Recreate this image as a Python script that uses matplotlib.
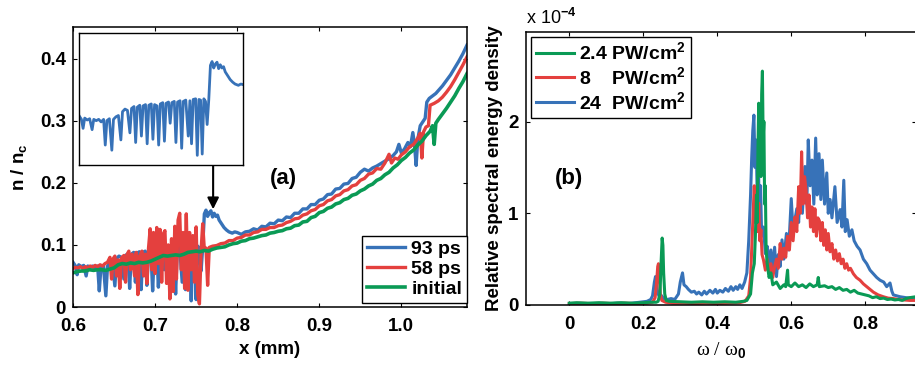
import matplotlib
matplotlib.use('Agg')
import matplotlib.pyplot as plt

plt.rcParams['font.family'] = ['Liberation Sans', 'DejaVu Sans']
plt.rcParams['font.weight'] = 'bold'
plt.rcParams['mathtext.fontset'] = 'custom'
plt.rcParams['mathtext.rm'] = 'Liberation Sans:bold'
plt.rcParams['mathtext.it'] = 'Liberation Sans:bold'
plt.rcParams['mathtext.bf'] = 'Liberation Sans:bold'

BLUE = '#3772b8'
RED = '#e4403e'
GREEN = '#0a9a55'

# ---- panel (a): density profiles ----
x_93 = [0.600, 0.603, 0.605, 0.607, 0.610, 0.613, 0.616, 0.618, 0.621, 0.624, 0.627, 0.630, 0.632, 0.634,
        0.637, 0.640, 0.642, 0.645, 0.648, 0.651, 0.653, 0.656, 0.659, 0.662, 0.664, 0.667, 0.669, 0.671,
        0.674, 0.676, 0.678, 0.681, 0.683, 0.685, 0.688, 0.690, 0.692, 0.695, 0.697, 0.699, 0.702, 0.704,
        0.706, 0.709, 0.711, 0.713, 0.716, 0.718, 0.720, 0.723, 0.725, 0.727, 0.730, 0.733, 0.735, 0.737,
        0.739, 0.742, 0.744, 0.746, 0.748, 0.750, 0.752, 0.754, 0.756, 0.758, 0.760, 0.762, 0.764, 0.766,
        0.768, 0.770, 0.772, 0.774, 0.776, 0.778, 0.781, 0.784, 0.787, 0.790, 0.794, 0.797,
        0.800, 0.805, 0.810, 0.815, 0.820, 0.825, 0.830, 0.835, 0.840, 0.845, 0.850, 0.855, 0.860, 0.865,
        0.870, 0.875, 0.880, 0.885, 0.890, 0.895, 0.900, 0.905, 0.910, 0.915, 0.920, 0.925, 0.930, 0.935,
        0.940, 0.945, 0.950, 0.955, 0.960, 0.965, 0.970, 0.975, 0.980, 0.985, 0.990, 0.994, 0.997, 1.000,
        1.004, 1.008, 1.011, 1.014, 1.016, 1.018, 1.020, 1.023, 1.026, 1.029, 1.031, 1.034, 1.038, 1.042,
        1.046, 1.050, 1.055, 1.060, 1.065, 1.070, 1.075, 1.080]
n_93 = [0.072, 0.066, 0.052, 0.068, 0.065, 0.067, 0.050, 0.066, 0.064, 0.066, 0.062, 0.066, 0.026, 0.064,
        0.067, 0.018, 0.066, 0.070, 0.072, 0.034, 0.078, 0.082, 0.080, 0.045, 0.083, 0.086, 0.030, 0.085,
        0.088, 0.040, 0.087, 0.089, 0.028, 0.088, 0.090, 0.035, 0.089, 0.087, 0.026, 0.090, 0.092, 0.032,
        0.091, 0.093, 0.060, 0.092, 0.094, 0.030, 0.093, 0.095, 0.021, 0.094, 0.096, 0.040, 0.095, 0.028,
        0.097, 0.098, 0.010, 0.097, 0.096, 0.012, 0.098, 0.094, 0.058, 0.097, 0.150, 0.156, 0.146, 0.152,
        0.155, 0.145, 0.151, 0.146, 0.148, 0.140, 0.134, 0.128, 0.124, 0.121, 0.119, 0.121,
        0.120, 0.117, 0.121, 0.122, 0.126, 0.124, 0.130, 0.129, 0.135, 0.134, 0.140, 0.139, 0.145, 0.144,
        0.151, 0.151, 0.158, 0.158, 0.165, 0.165, 0.172, 0.174, 0.181, 0.182, 0.190, 0.191, 0.198, 0.199,
        0.207, 0.209, 0.217, 0.222, 0.219, 0.224, 0.227, 0.231, 0.235, 0.239, 0.244, 0.250, 0.262, 0.248,
        0.255, 0.265, 0.258, 0.281, 0.262, 0.228, 0.270, 0.292, 0.298, 0.304, 0.330, 0.336, 0.340, 0.344,
        0.350, 0.356, 0.365, 0.374, 0.385, 0.396, 0.408, 0.422]

x_58 = [0.600, 0.603, 0.606, 0.609, 0.612, 0.615, 0.618, 0.621, 0.624, 0.627, 0.630, 0.633, 0.636, 0.639,
        0.642, 0.645, 0.647, 0.649, 0.651, 0.653, 0.655, 0.657, 0.659, 0.662, 0.664, 0.666, 0.668, 0.670,
        0.672, 0.675, 0.677, 0.679, 0.681, 0.684, 0.686, 0.688, 0.690, 0.692, 0.694, 0.696, 0.698, 0.700,
        0.702, 0.704, 0.706, 0.708, 0.710, 0.712, 0.714, 0.716, 0.718, 0.720, 0.722, 0.724, 0.726, 0.728,
        0.730, 0.732, 0.734, 0.736, 0.738, 0.740, 0.742, 0.744, 0.746, 0.748, 0.750, 0.752, 0.754, 0.756,
        0.758, 0.760, 0.762, 0.764, 0.766, 0.770, 0.775, 0.780, 0.785, 0.790, 0.795,
        0.800, 0.805, 0.810, 0.815, 0.820, 0.825, 0.830, 0.835, 0.840, 0.845, 0.850, 0.855, 0.860, 0.865,
        0.870, 0.875, 0.880, 0.885, 0.890, 0.895, 0.900, 0.905, 0.910, 0.915, 0.920, 0.925, 0.930, 0.935,
        0.940, 0.945, 0.950, 0.955, 0.960, 0.965, 0.970, 0.975, 0.980, 0.985, 0.988, 0.992, 0.996, 1.000,
        1.005, 1.010, 1.015, 1.020, 1.023, 1.025, 1.027, 1.030, 1.033, 1.035, 1.040, 1.045, 1.050, 1.055,
        1.060, 1.065, 1.070, 1.075, 1.080]
n_58 = [0.062, 0.064, 0.063, 0.065, 0.062, 0.065, 0.063, 0.066, 0.064, 0.067, 0.065, 0.068, 0.066, 0.070,
        0.072, 0.080, 0.045, 0.078, 0.082, 0.050, 0.076, 0.030, 0.079, 0.083, 0.040, 0.085, 0.090, 0.060,
        0.085, 0.050, 0.088, 0.020, 0.082, 0.090, 0.050, 0.085, 0.038, 0.095, 0.126, 0.060, 0.120, 0.054,
        0.128, 0.070, 0.125, 0.040, 0.118, 0.123, 0.038, 0.100, 0.013, 0.110, 0.025, 0.130, 0.045, 0.140,
        0.151, 0.060, 0.120, 0.030, 0.150, 0.027, 0.120, 0.060, 0.115, 0.040, 0.129, 0.020, 0.005, 0.090,
        0.134, 0.092, 0.095, 0.035, 0.096, 0.098, 0.099, 0.102, 0.103, 0.107, 0.107,
        0.111, 0.112, 0.116, 0.116, 0.120, 0.121, 0.125, 0.125, 0.128, 0.128, 0.131, 0.132, 0.136, 0.138,
        0.142, 0.143, 0.148, 0.150, 0.155, 0.157, 0.163, 0.165, 0.171, 0.173, 0.179, 0.181, 0.187, 0.189,
        0.195, 0.197, 0.204, 0.207, 0.214, 0.216, 0.223, 0.222, 0.232, 0.246, 0.232, 0.240, 0.238, 0.245,
        0.250, 0.258, 0.262, 0.272, 0.280, 0.240, 0.282, 0.290, 0.292, 0.325, 0.328, 0.332, 0.338, 0.346,
        0.355, 0.366, 0.378, 0.390, 0.403]

x_init = [0.600, 0.605, 0.610, 0.615, 0.620, 0.625, 0.630, 0.635, 0.640, 0.645, 0.650, 0.655, 0.660, 0.665,
          0.670, 0.675, 0.680, 0.685, 0.690, 0.695, 0.700, 0.705, 0.710, 0.715, 0.720, 0.725, 0.730, 0.735,
          0.740, 0.745, 0.750, 0.755, 0.760, 0.765, 0.770, 0.775, 0.780, 0.785, 0.790, 0.795,
          0.800, 0.805, 0.810, 0.815, 0.820, 0.825, 0.830, 0.835, 0.840, 0.845, 0.850, 0.855, 0.860, 0.865,
          0.870, 0.875, 0.880, 0.885, 0.890, 0.895, 0.900, 0.905, 0.910, 0.915, 0.920, 0.925, 0.930, 0.935,
          0.940, 0.945, 0.950, 0.955, 0.960, 0.965, 0.970, 0.975, 0.980, 0.985, 0.990, 0.995, 1.000, 1.005,
          1.010, 1.015, 1.020, 1.025, 1.030, 1.035, 1.038, 1.040, 1.042, 1.045, 1.050, 1.055, 1.060, 1.065,
          1.070, 1.075, 1.080]
n_init = [0.055, 0.057, 0.058, 0.058, 0.060, 0.059, 0.060, 0.060, 0.059, 0.061, 0.063, 0.068, 0.070, 0.069,
          0.071, 0.070, 0.072, 0.071, 0.072, 0.074, 0.077, 0.080, 0.083, 0.082, 0.083, 0.084, 0.083, 0.085,
          0.088, 0.089, 0.090, 0.089, 0.091, 0.090, 0.093, 0.095, 0.096, 0.097, 0.100, 0.102,
          0.103, 0.106, 0.107, 0.110, 0.111, 0.113, 0.115, 0.116, 0.119, 0.120, 0.122, 0.123, 0.126, 0.127,
          0.131, 0.132, 0.137, 0.138, 0.144, 0.146, 0.152, 0.154, 0.159, 0.161, 0.166, 0.168, 0.173, 0.175,
          0.180, 0.182, 0.187, 0.190, 0.195, 0.198, 0.204, 0.207, 0.213, 0.217, 0.224, 0.229, 0.236, 0.241,
          0.248, 0.253, 0.261, 0.267, 0.276, 0.283, 0.292, 0.262, 0.296, 0.302, 0.311, 0.320, 0.330, 0.340,
          0.352, 0.363, 0.376]

# ---- panel (b): spectra (units of 1e-4) ----
w_24 = [0.000, 0.050, 0.100, 0.130, 0.160, 0.190, 0.210, 0.220, 0.225, 0.230, 0.233, 0.236, 0.240, 0.245,
        0.250, 0.255, 0.265, 0.275, 0.285, 0.295, 0.300, 0.306, 0.310, 0.316, 0.322, 0.330, 0.338, 0.344,
        0.350, 0.358, 0.365, 0.371, 0.380, 0.388, 0.395, 0.400, 0.407, 0.415, 0.422, 0.430, 0.437, 0.443,
        0.450, 0.455, 0.461, 0.467, 0.474, 0.480, 0.485, 0.490, 0.493, 0.496, 0.499, 0.502, 0.505, 0.508,
        0.511, 0.514, 0.517, 0.520, 0.525, 0.530, 0.535, 0.540, 0.545, 0.550, 0.555, 0.560, 0.565, 0.570,
        0.575, 0.580, 0.587, 0.593, 0.600, 0.605, 0.610, 0.615, 0.620, 0.624, 0.630, 0.637, 0.642, 0.646,
        0.651, 0.656, 0.661, 0.666, 0.670, 0.675, 0.680, 0.684, 0.690, 0.696, 0.700, 0.705, 0.710, 0.718,
        0.724, 0.732, 0.737, 0.742, 0.746, 0.751, 0.757, 0.764, 0.770, 0.778, 0.786, 0.795, 0.804, 0.813,
        0.822, 0.831, 0.840, 0.850, 0.858, 0.867, 0.872, 0.876, 0.885, 0.894, 0.910, 0.937]
s_24 = [0.005, 0.008, 0.010, 0.020, 0.015, 0.030, 0.040, 0.060, 0.100, 0.250, 0.310, 0.200, 0.120, 0.080,
        0.100, 0.070, 0.060, 0.070, 0.060, 0.120, 0.250, 0.350, 0.220, 0.200, 0.170, 0.140, 0.150, 0.120,
        0.140, 0.110, 0.150, 0.120, 0.160, 0.130, 0.170, 0.130, 0.160, 0.140, 0.180, 0.150, 0.200, 0.160,
        0.200, 0.170, 0.220, 0.180, 0.250, 0.350, 0.700, 1.200, 1.600, 1.900, 2.070, 1.500, 1.800, 1.200,
        1.600, 0.900, 1.300, 0.750, 0.850, 0.560, 0.640, 0.450, 0.600, 0.380, 0.630, 0.310, 0.550, 0.420,
        0.710, 0.500, 0.780, 0.600, 1.160, 0.800, 0.930, 1.050, 0.900, 1.290, 1.000, 1.510, 1.100, 1.800,
        1.300, 1.580, 1.100, 1.820, 1.200, 1.650, 1.150, 1.580, 1.100, 1.440, 1.000, 1.150, 0.950, 1.290,
        0.900, 1.040, 0.850, 1.360, 0.800, 0.930, 0.750, 0.820, 0.700, 0.640, 0.600, 0.500, 0.450, 0.380,
        0.340, 0.300, 0.270, 0.250, 0.200, 0.240, 0.150, 0.110, 0.100, 0.090, 0.080, 0.070]

w_8 = [0.000, 0.030, 0.060, 0.090, 0.120, 0.150, 0.180, 0.210, 0.225, 0.232, 0.236, 0.239, 0.241, 0.243,
       0.246, 0.250, 0.260, 0.280, 0.310, 0.340, 0.370, 0.400, 0.430, 0.460, 0.475, 0.485, 0.490, 0.494,
       0.497, 0.500, 0.503, 0.506, 0.509, 0.512, 0.515, 0.518, 0.521, 0.525, 0.530, 0.535, 0.540, 0.545,
       0.550, 0.555, 0.560, 0.565, 0.570, 0.575, 0.580, 0.585, 0.590, 0.595, 0.600, 0.605, 0.610, 0.615,
       0.620, 0.624, 0.628, 0.632, 0.636, 0.640, 0.644, 0.648, 0.652, 0.656, 0.660, 0.664, 0.668, 0.672,
       0.676, 0.680, 0.684, 0.688, 0.692, 0.696, 0.700, 0.705, 0.710, 0.715, 0.720, 0.725, 0.730, 0.735,
       0.740, 0.745, 0.750, 0.755, 0.760, 0.768, 0.776, 0.786, 0.795, 0.804, 0.813, 0.822, 0.835, 0.849,
       0.862, 0.876, 0.890, 0.905, 0.920, 0.937]
s_8 = [0.015, 0.020, 0.015, 0.020, 0.015, 0.020, 0.015, 0.020, 0.030, 0.080, 0.250, 0.420, 0.450, 0.300,
       0.120, 0.050, 0.030, 0.020, 0.020, 0.015, 0.020, 0.015, 0.020, 0.025, 0.040, 0.100, 0.300, 0.700,
       1.000, 1.300, 0.900, 1.100, 0.800, 1.110, 0.700, 0.820, 0.550, 0.490, 0.380, 0.500, 0.350, 0.450,
       0.300, 0.420, 0.500, 0.400, 0.670, 0.500, 0.620, 0.520, 0.750, 0.600, 0.900, 0.700, 0.960, 0.800,
       1.290, 1.000, 1.670, 1.100, 1.400, 1.250, 0.950, 1.200, 0.850, 1.070, 0.800, 1.050, 0.750, 0.950,
       0.920, 0.700, 0.900, 0.650, 0.820, 0.600, 0.780, 0.580, 0.670, 0.500, 0.600, 0.480, 0.560, 0.450,
       0.500, 0.400, 0.450, 0.380, 0.400, 0.340, 0.300, 0.270, 0.230, 0.200, 0.170, 0.140, 0.110, 0.090,
       0.075, 0.070, 0.060, 0.055, 0.050, 0.050]

w_2p4 = [0.000, 0.020, 0.050, 0.080, 0.110, 0.140, 0.170, 0.200, 0.220, 0.235, 0.240, 0.245, 0.248, 0.251,
         0.253, 0.255, 0.258, 0.262, 0.270, 0.300, 0.330, 0.360, 0.390, 0.420, 0.450, 0.470, 0.480, 0.490,
         0.495, 0.500, 0.503, 0.506, 0.508, 0.510, 0.512, 0.514, 0.516, 0.518, 0.520, 0.522, 0.524, 0.526,
         0.528, 0.530, 0.532, 0.535, 0.540, 0.545, 0.550, 0.560, 0.570, 0.580, 0.585, 0.590, 0.592, 0.600,
         0.610, 0.620, 0.630, 0.640, 0.650, 0.660, 0.670, 0.673, 0.676, 0.690, 0.700, 0.710, 0.720, 0.730,
         0.740, 0.750, 0.760, 0.770, 0.780, 0.790, 0.800, 0.810, 0.820, 0.830, 0.840, 0.850, 0.860, 0.870,
         0.880, 0.890, 0.900, 0.910, 0.920, 0.937]
s_2p4 = [0.020, 0.025, 0.020, 0.025, 0.020, 0.025, 0.020, 0.025, 0.030, 0.030, 0.040, 0.120, 0.450, 0.730,
         0.650, 0.350, 0.120, 0.050, 0.040, 0.035, 0.030, 0.035, 0.030, 0.035, 0.030, 0.040, 0.050, 0.120,
         0.350, 0.450, 0.750, 1.200, 0.900, 1.700, 2.200, 1.600, 2.150, 1.400, 2.300, 2.550, 1.800, 2.000,
         1.100, 1.300, 0.600, 0.450, 0.300, 0.350, 0.220, 0.250, 0.180, 0.220, 0.200, 0.380, 0.220, 0.200,
         0.240, 0.200, 0.220, 0.190, 0.230, 0.200, 0.220, 0.300, 0.200, 0.210, 0.190, 0.200, 0.170, 0.190,
         0.160, 0.170, 0.140, 0.160, 0.130, 0.120, 0.110, 0.100, 0.080, 0.090, 0.070, 0.075, 0.060, 0.065,
         0.055, 0.060, 0.050, 0.070, 0.080, 0.090]

fig = plt.figure(figsize=(9.15, 3.65), dpi=100)


def style_axes(ax):
    for sp in ax.spines.values():
        sp.set_linewidth(1.1)
    ax.tick_params(direction='in', top=True, right=True, length=3, width=0.8,
                   labelsize=13.5, pad=5)
    ax.tick_params(axis='x', pad=8)


# panel (a)
ax1 = fig.add_axes([0.0798, 0.1589, 0.4306, 0.7671])
l93, = ax1.plot(x_93, n_93, color=BLUE, lw=2.4, label='93 ps')
l58, = ax1.plot(x_58, n_58, color=RED, lw=2.4, label='58 ps')
lin, = ax1.plot(x_init, n_init, color=GREEN, lw=2.6, label='initial')
ax1.set_xlim(0.6, 1.08)
ax1.set_ylim(0, 0.451)
ax1.set_xticks([0.6, 0.7, 0.8, 0.9, 1.0])
ax1.set_xticklabels(['0.6', '0.7', '0.8', '0.9', '1.0'])
ax1.set_yticks([0, 0.1, 0.2, 0.3, 0.4])
ax1.set_yticklabels(['0', '0.1', '0.2', '0.3', '0.4'])
style_axes(ax1)
ax1.set_xlabel('x (mm)', fontsize=13.5, fontweight='bold', labelpad=4)
ax1.set_ylabel('n / n$_c$', fontsize=13.5, fontweight='bold', labelpad=8)
ax1.text(0.856, 0.207, '(a)', fontsize=16, fontweight='bold', ha='center', va='center')
ax1.annotate('', xy=(0.7707, 0.153), xytext=(0.7707, 0.3145),
             arrowprops=dict(arrowstyle='-|>', color='k', lw=1.5, mutation_scale=17))
leg1 = ax1.legend(handles=[l93, l58, lin], loc='lower right', bbox_to_anchor=(1.0, 0.015),
                  borderaxespad=0, fontsize=14, handlelength=2.0, handletextpad=0.3,
                  labelspacing=0.12, borderpad=0.25, fancybox=False, framealpha=1,
                  edgecolor='k')
leg1.get_frame().set_linewidth(1.0)

# inset: zoom of 93 ps profile
ax_in = fig.add_axes([0.0863, 0.548, 0.1796, 0.3608])
ax_in.plot(x_93, n_93, color=BLUE, lw=2.0)
ax_in.set_xlim(0.6, 0.8)
ax_in.set_ylim(-0.005, 0.2)
ax_in.set_xticks([])
ax_in.set_yticks([])
for sp in ax_in.spines.values():
    sp.set_linewidth(1.0)

# panel (b)
ax2 = fig.add_axes([0.5745, 0.1644, 0.4265, 0.7488])
b24, = ax2.plot(w_24, s_24, color=BLUE, lw=2.2)
b8, = ax2.plot(w_8, s_8, color=RED, lw=2.2)
b2, = ax2.plot(w_2p4, s_2p4, color=GREEN, lw=2.2)
ax2.set_xlim(-0.118, 0.937)
ax2.set_ylim(0, 2.98)
ax2.set_xticks([0, 0.2, 0.4, 0.6, 0.8])
ax2.set_xticklabels(['0', '0.2', '0.4', '0.6', '0.8'])
ax2.set_yticks([0, 1, 2])
ax2.set_yticklabels(['0', '1', '2'])
style_axes(ax2)
ax2.set_xlabel('ω / ω$_0$', fontsize=14, fontweight='normal',
               fontfamily=['Liberation Serif', 'DejaVu Serif'], labelpad=5)
ax2.set_ylabel('Relative spectral energy density', fontsize=13.5, fontweight='bold', labelpad=4)
ax2.text(0.0, 1.38, '(b)', fontsize=16, fontweight='bold', ha='center', va='center')
ax2.text(0.0, 1.015, 'x 10$^{-4}$', transform=ax2.transAxes, fontsize=13,
         fontweight='normal', ha='left', va='bottom')
leg2 = ax2.legend(handles=[b2, b8, b24],
                  labels=['2.4 PW/cm$^2$', '8    PW/cm$^2$', '24  PW/cm$^2$'],
                  loc='upper left', bbox_to_anchor=(0.013, 0.982), borderaxespad=0,
                  fontsize=14, handlelength=2.0, handletextpad=0.25, labelspacing=0.15,
                  borderpad=0.25, fancybox=False, framealpha=1, edgecolor='k')
leg2.get_frame().set_linewidth(1.0)

fig.savefig('out.png', dpi=100)
